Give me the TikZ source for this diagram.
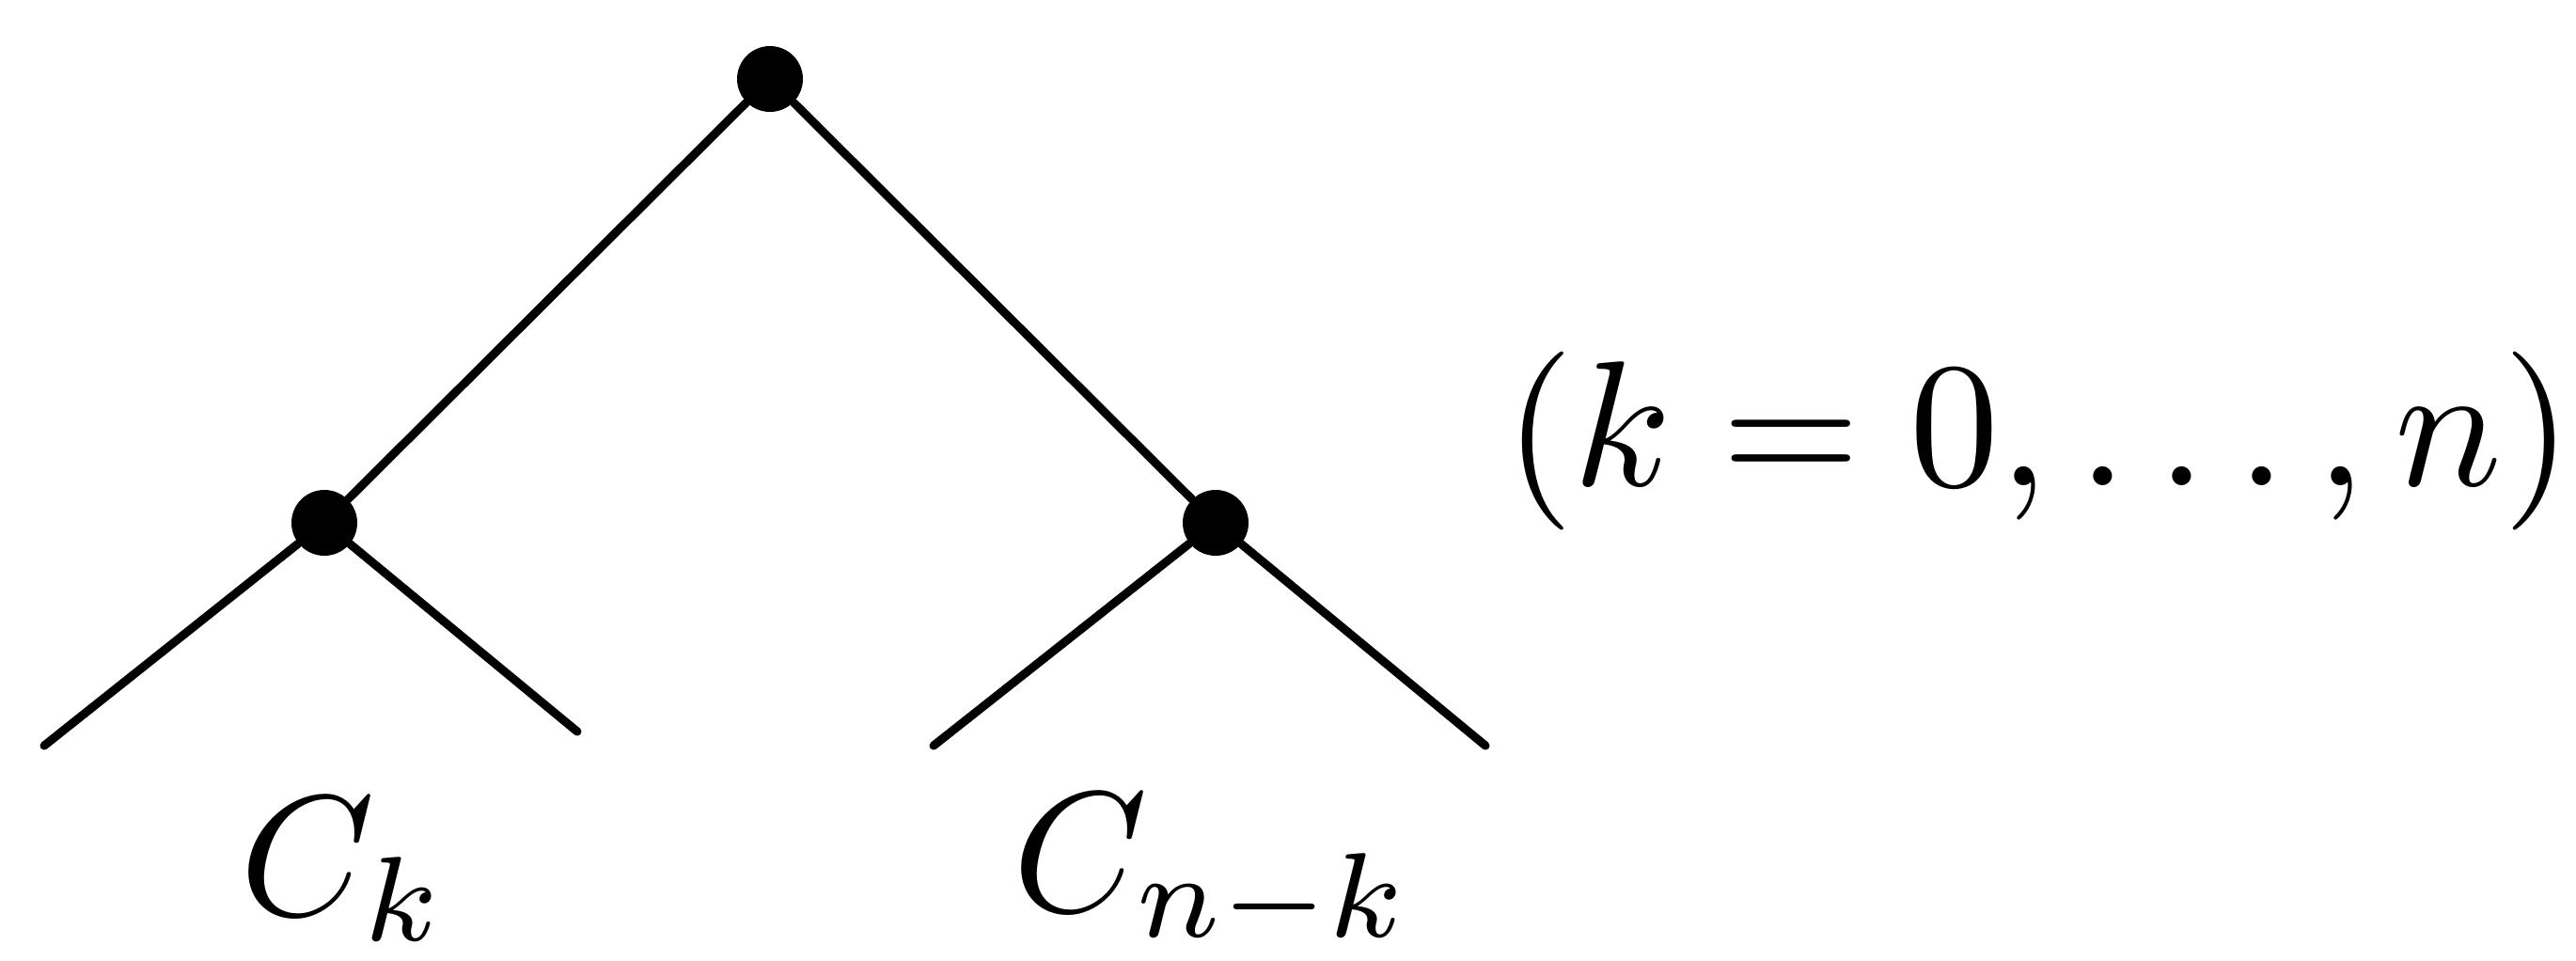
\documentclass[tikz,border=0pt]{standalone}
\usepackage{graphicx}
\usetikzlibrary{positioning}
\tikzstyle{vert}=[circle,fill=black,inner sep=0pt,minimum size=0.7cm]
\tikzstyle{edge}=[line width=0.09cm,line cap=round]
\tikzstyle{lab}=[inner sep=0pt,anchor=base]
\newcommand{\biglab}[2][5.5]{\scalebox{#1}{#2}}

\begin{document}
\begin{tikzpicture}[on grid]
\useasboundingbox (0,0) rectangle (27.4,10.21);
\node[vert] (R) at (8.19,9.37) {};
\node[vert, below left=4.72cm and 4.74cm of R] (A) {};
\node[vert, below right=4.72cm and 4.74cm of R] (B) {};
\coordinate[below left=2.37cm and 2.98cm of A] (A1);
\coordinate[below right=2.22cm and 2.69cm of A] (A2);
\coordinate[below left=2.37cm and 3.00cm of B] (B1);
\coordinate[below right=2.37cm and 2.87cm of B] (B2);
\draw[edge] (R) -- (A);
\draw[edge] (R) -- (B);
\draw[edge] (A) -- (A1);
\draw[edge] (A) -- (A2);
\draw[edge] (B) -- (B1);
\draw[edge] (B) -- (B2);
\node[lab] (ck) at (3.66,0.48) {\biglab[5.2]{$C_k$}};
\node[lab] (cnk) at (12.90,0.52) {\biglab[5.2]{$C_{n-k}$}};
\node[lab] (rng) at (21.68,5.05) {\biglab[5.4]{$(k=0,\ldots,n)$}};
\end{tikzpicture}
\end{document}
